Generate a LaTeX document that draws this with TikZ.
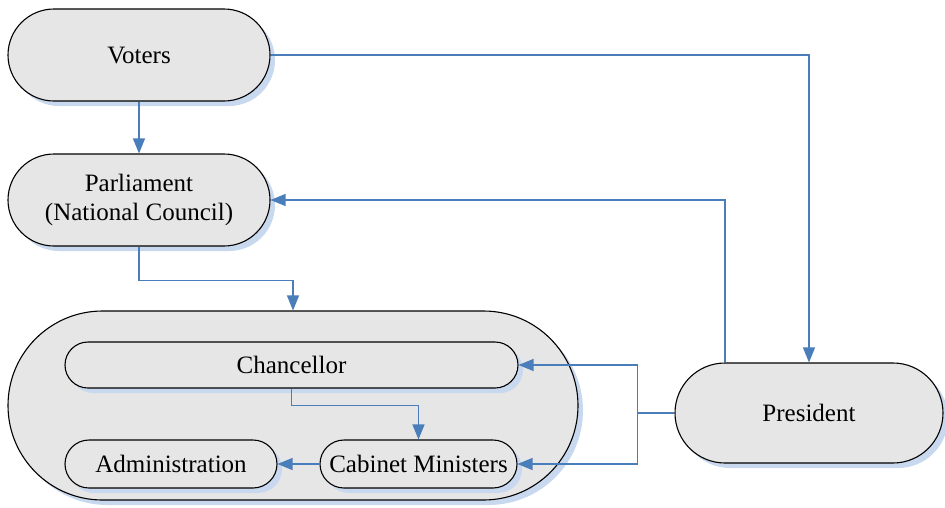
\documentclass[tikz,border=0pt]{standalone}
\usepackage{fontspec}
\setmainfont{Liberation Serif}
\usepackage{tikz}
\usetikzlibrary{arrows.meta, positioning, shapes.misc, shadows}

\definecolor{linkblue}{RGB}{74,126,187}
\definecolor{shadowblue}{RGB}{200,216,238}
\definecolor{boxgray}{RGB}{230,230,230}

\begin{document}
\begin{tikzpicture}[
    x=1pt, y=1pt,
    pill/.style={rounded rectangle, draw=black, line width=1.1pt, fill=boxgray,
        inner sep=0pt, font=\fontsize{25}{29}\selectfont, align=center,
        drop shadow={fill=shadowblue, opacity=1, shadow xshift=5pt, shadow yshift=-5pt}},
    link/.style={draw=linkblue, line width=1.2pt, -{Triangle[width=12pt, length=15pt]}},
    plainlink/.style={draw=linkblue, line width=1.2pt}
]
    % Frame of the picture
    \useasboundingbox (0,0) rectangle (945,-507);

    % Top level boxes
    \node[pill, minimum width=262pt, minimum height=92pt] (voters) at (139,-55) {Voters};
    \node[pill, minimum width=262pt, minimum height=92pt] (parliament) at (139,-200) {Parliament\\(National Council)};
    \node[pill, minimum width=268pt, minimum height=100pt] (president) at (809,-413) {President};

    % Government container and its members
    \node[pill, minimum width=570pt, minimum height=189pt] (gov) at (293,-405.5) {};
    \node[pill, minimum width=453pt, minimum height=46pt] (chancellor) at (291.5,-365) {Chancellor};
    \node[pill, minimum width=212pt, minimum height=48pt] (admin) at (171,-464) {Administration};
    \node[pill, minimum width=197pt, minimum height=48pt] (cabinet) at (418.5,-464) {Cabinet Ministers};

    % Elections
    \draw[link] (voters.south) -- (parliament.north);
    \draw[link] (voters.east) -| (president.north);

    % President and parliament
    \draw[link] ([xshift=-84pt]president.north) |- (parliament.east);
    \draw[link] (parliament.south) -- ++(0,-34) -| (gov.north);

    % President appoints chancellor and ministers
    \coordinate (split) at ([xshift=-37pt]president.west);
    \draw[plainlink] (president.west) -- (split);
    \draw[link] (split) |- (chancellor.east);
    \draw[link] (split) |- (cabinet.east);

    % Inside the government
    \draw[link] (chancellor.south) -- ++(0,-17) -| (cabinet.north);
    \draw[link] (cabinet.west) -- (admin.east);
\end{tikzpicture}
\end{document}
